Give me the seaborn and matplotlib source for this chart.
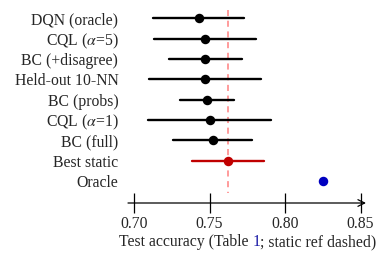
import matplotlib
matplotlib.use("Agg")
import matplotlib.pyplot as plt
import seaborn as sns
import pandas as pd
import numpy as np

labels = ["DQN (oracle)", r"CQL ($\alpha$=5)", "BC (+disagree)", "Held-out 10-NN",
          "BC (probs)", r"CQL ($\alpha$=1)", "BC (full)", "Best static", "Oracle"]
means = [0.743, 0.747, 0.747, 0.747, 0.748, 0.750, 0.752, 0.7625, 0.8254]
lows = [0.7126, 0.713, 0.7234, 0.710, 0.7305, 0.709, 0.726, 0.7384, 0.8254]
highs = [0.7728, 0.781, 0.7713, 0.7843, 0.766, 0.791, 0.778, 0.7863, 0.8254]
colors = ["black"] * 7 + ["#c00000", "#0000c0"]
static_ref = 0.7625
xticks = [0.70, 0.75, 0.80, 0.85]

sns.set_theme(style="white")
plt.rcParams["font.family"] = ["Liberation Serif", "DejaVu Serif"]
plt.rcParams["mathtext.fontset"] = "stix"

rows = []
for lab, lo, m, hi in zip(labels, lows, means, highs):
    for v in (lo, m, hi):
        rows.append({"method": lab, "acc": v})
df = pd.DataFrame(rows)

fig = plt.figure(figsize=(3.79, 2.56), dpi=100)
W, H = 379, 256
ax = fig.add_axes([128 / W, 1 - 203 / H, (366 - 128) / W, (203 - 10) / H])

palette = dict(zip(labels, colors))
sns.pointplot(data=df, x="acc", y="method", hue="method", order=labels,
              palette=palette, estimator=np.median,
              errorbar=lambda v: (v.min(), v.max()),
              linestyle="none", markers="o", markersize=4.8,
              err_kws={"linewidth": 1.7}, legend=False, ax=ax)

ax.vlines(static_ref, -0.4, 8.6, colors="#ff8080", linestyles=(0, (4, 3)), linewidth=1.1, zorder=0)

fs = 11.3
ax.set_xlim(0.696, 0.8536)
ax.set_ylim(9.08, -0.4)
for s in ax.spines.values():
    s.set_visible(False)
ax.set_xticks(xticks)
ax.set_xticklabels([f"{t:.2f}" for t in xticks], fontsize=fs)
ax.tick_params(axis="x", direction="inout", length=14, width=0.9, color="black", pad=2, bottom=True)
ax.tick_params(axis="y", length=0, labelsize=fs, pad=7)
ax.set_xlabel("")
ax.set_ylabel("")
ax.annotate("", xy=(1.0, 0), xytext=(0, 0), xycoords="axes fraction",
            arrowprops=dict(arrowstyle="->", lw=0.9, color="black", shrinkA=0, shrinkB=0))

t1 = fig.text(119 / W, 1 - 246 / H, "Test accuracy (Table ", fontsize=fs, va="baseline", ha="left")
t2 = ax.annotate("1", xy=(1, 0), xycoords=t1, va="bottom", ha="left", fontsize=fs, color="#1a1aa6",
                 annotation_clip=False)
t3 = ax.annotate("; static ref dashed)", xy=(1, 0), xycoords=t2, va="bottom", ha="left", fontsize=fs,
                 annotation_clip=False)

fig.savefig("out.png", dpi=100)
